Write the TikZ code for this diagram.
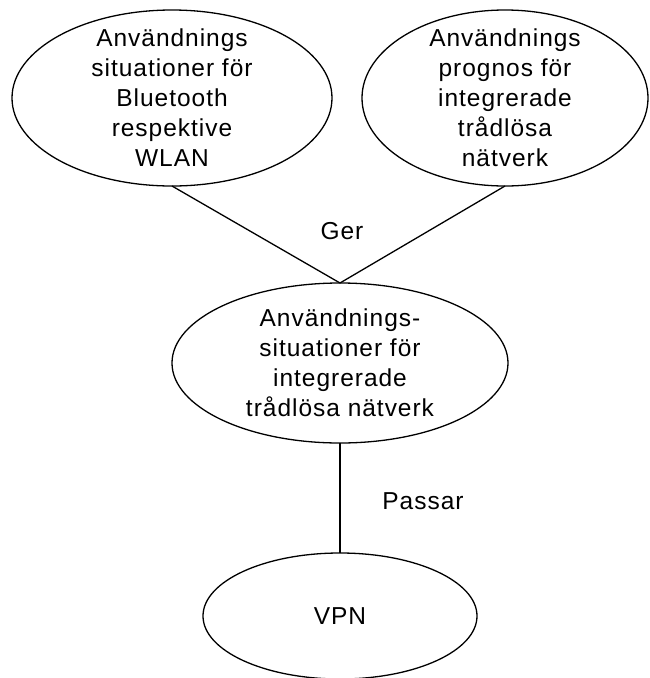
\documentclass[tikz,border=0pt]{standalone}
\usepackage{fontspec}
\setmainfont{Liberation Sans}[LetterSpace=4.0]
\usetikzlibrary{shapes.geometric}
\begin{document}
\begin{tikzpicture}[x=1pt,y=-1pt,
  bubble/.style={ellipse,draw=black,line width=1.3pt,inner sep=0pt,outer sep=0pt},
  caption/.style={align=center,inner sep=0pt,
    font=\fontsize{24.5pt}{30pt}\selectfont},
  link/.style={draw=black,line width=1.3pt}]
\useasboundingbox (0,0) rectangle (649,678);
% ellipses
\node[bubble,minimum width=320pt,minimum height=176pt] (bt) at (172,98) {};
\node[bubble,minimum width=286pt,minimum height=176pt] (pr) at (505,98) {};
\node[bubble,minimum width=336pt,minimum height=160pt] (us) at (340,363) {};
\node[bubble,minimum width=274pt,minimum height=126pt] (vpn) at (340,616) {};
% texts inside the ellipses
\node[caption] at (bt) {Användnings\\situationer för\\Bluetooth\\respektive\\WLAN};
\node[caption] at (pr) {Användnings\\prognos för\\integrerade\\trådlösa\\nätverk};
\node[caption] at (us) {Användnings-\\situationer för\\integrerade\\trådlösa nätverk};
\node[caption] at (vpn) {VPN};
% connectors
\draw[link] (bt.south) -- (us.north);
\draw[link] (pr.south) -- (us.north);
\draw[link] (us.south) -- (vpn.north);
% connector labels
\node[caption] (ger) at (342,231) {Ger};
\node[caption] (passar) at (423,501) {Passar};
\end{tikzpicture}
\end{document}
